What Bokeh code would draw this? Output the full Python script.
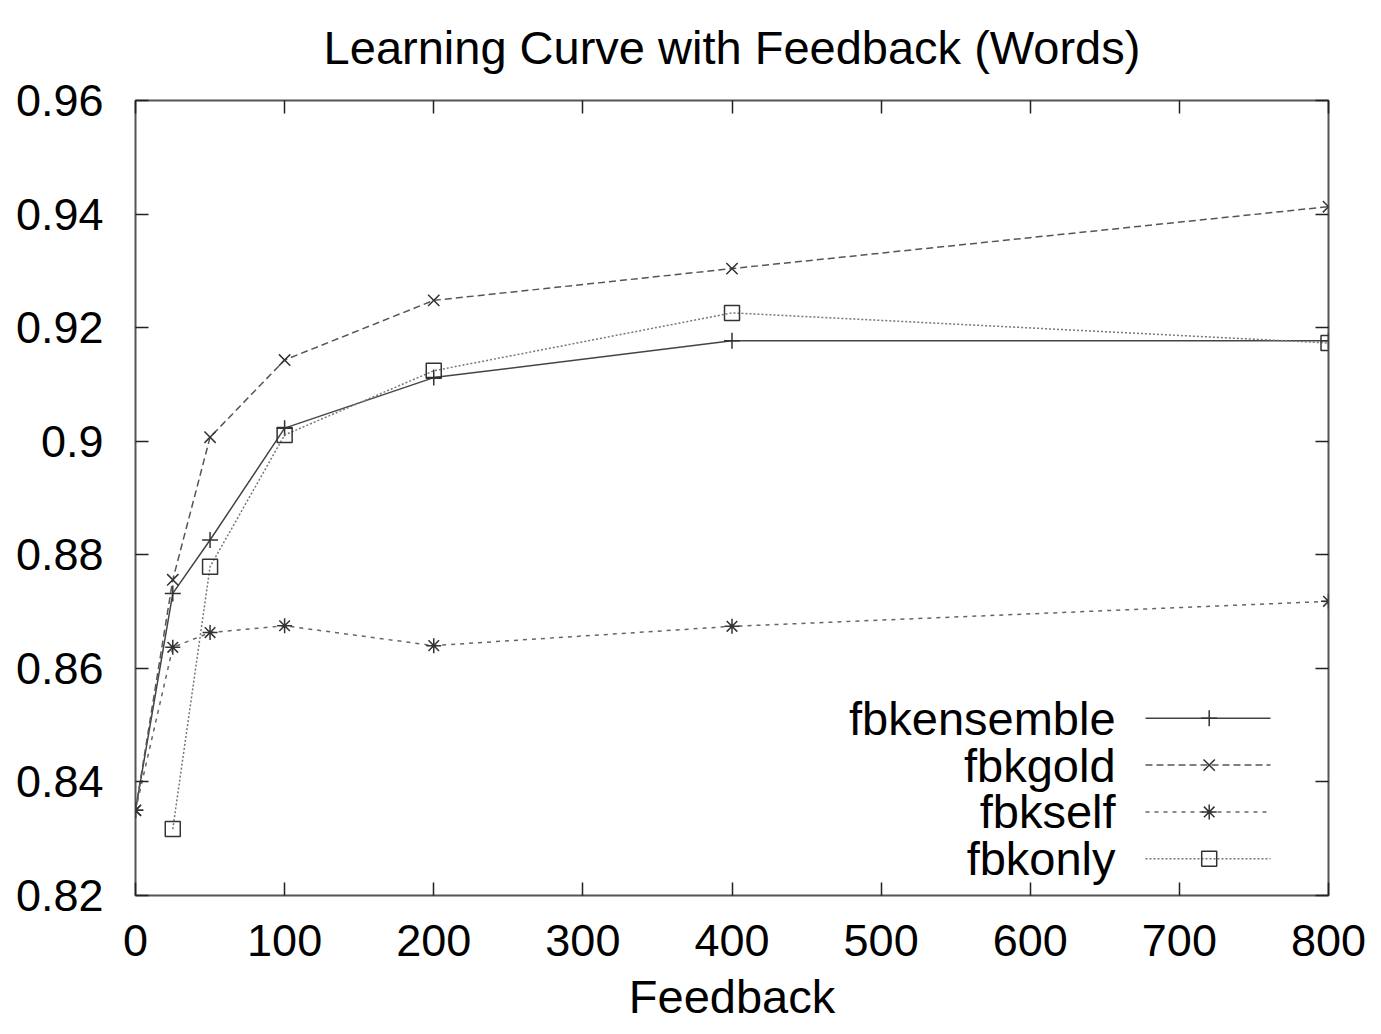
from bokeh.plotting import figure
from bokeh.models import FixedTicker, LinearAxis, Range1d, CustomLabelingPolicy
from bokeh.core.properties import value
from bokeh.embed import file_html
from bokeh.resources import INLINE

# ---- data ----
title_text = "Learning Curve with Feedback (Words)"
x_label = "Feedback"
feedback = [0, 25, 50, 100, 200, 400, 800]
fbkensemble = [0.835, 0.8732, 0.8826, 0.9023, 0.9112, 0.9177, 0.9177]
fbkgold = [0.835, 0.8756, 0.9007, 0.9143, 0.9248, 0.9304, 0.9413]
fbkself = [0.835, 0.8637, 0.8663, 0.8675, 0.8640, 0.8674, 0.8718]
feedback_only = [25, 50, 100, 200, 400, 800]
fbkonly = [0.8317, 0.8779, 0.9011, 0.9124, 0.9226, 0.9173]
series_names = ["fbkensemble", "fbkgold", "fbkself", "fbkonly"]
x_ticks = [0, 100, 200, 300, 400, 500, 600, 700, 800]
y_ticks = [0.82, 0.84, 0.86, 0.88, 0.9, 0.92, 0.94, 0.96]
y_tick_labels = ["0.82", "0.84", "0.86", "0.88", "0.9", "0.92", "0.94", "0.96"]

FONT = "Liberation Sans"
FS = "45px"
FS_BIG = "47px"

x0, x1 = 0, 800
y0, y1 = 0.82, 0.96

p = figure(width=1373, height=1026, output_backend="svg", toolbar_location=None,
           x_range=Range1d(x0, x1), y_range=Range1d(y0, y1),
           min_border_left=135, min_border_right=45, min_border_top=100, min_border_bottom=131,
           x_axis_label=x_label)
p.background_fill_color = "white"
p.border_fill_color = "white"
p.xgrid.visible = False
p.ygrid.visible = False
p.outline_line_color = "#555555"
p.outline_line_width = 2
p.outline_line_alpha = 1

p.title.text = title_text
p.title.align = "center"
p.title.vertical_align = "top"
p.title.text_font = FONT
p.title.text_font_size = FS_BIG
p.title.text_font_style = "normal"
p.title.text_color = "black"
p.title.standoff = 41

def style_axis(ax, show_labels=True):
    ax.axis_line_color = None
    ax.major_tick_in = 13
    ax.major_tick_out = 0
    ax.minor_tick_line_color = None
    ax.major_tick_line_color = "#222222"
    ax.major_tick_line_width = 1.5
    ax.major_label_text_font = FONT
    ax.major_label_text_color = "black"
    if show_labels:
        ax.major_label_text_font_size = FS
    else:
        ax.major_label_text_font_size = "1px"
        ax.major_label_policy = CustomLabelingPolicy(code="return []")
        ax.major_label_standoff = 0

xt = FixedTicker(ticks=x_ticks)
yt = FixedTicker(ticks=y_ticks)
p.xaxis.ticker = xt
p.yaxis.ticker = yt
p.yaxis.major_label_overrides = {t: s for t, s in zip(y_ticks, y_tick_labels)}
style_axis(p.xaxis[0])
style_axis(p.yaxis[0])
p.xaxis.major_label_standoff = 29
p.yaxis.major_label_standoff = 32
p.xaxis.axis_label_text_font = FONT
p.xaxis.axis_label_text_font_size = FS_BIG
p.xaxis.axis_label_text_font_style = "normal"
p.xaxis.axis_label_text_color = "black"
p.xaxis.axis_label_standoff = 11

top_ax = LinearAxis(ticker=FixedTicker(ticks=x_ticks))
style_axis(top_ax, False)
p.add_layout(top_ax, "above")
right_ax = LinearAxis(ticker=FixedTicker(ticks=y_ticks))
style_axis(right_ax, False)
p.add_layout(right_ax, "right")

styles = [
    dict(x=feedback, y=fbkensemble, dash="solid", color="#444444", marker="cross", size=16),
    dict(x=feedback, y=fbkgold, dash="7 4", color="#555555", marker="x", size=16),
    dict(x=feedback, y=fbkself, dash="4 5", color="#666666", marker="asterisk", size=15),
    dict(x=feedback_only, y=fbkonly, dash="2 2", color="#777777", marker="square", size=15),
]

for s in styles:
    p.line(s["x"], s["y"], line_color=s["color"], line_width=1.5, line_dash=s["dash"])
    p.scatter(s["x"], s["y"], marker=s["marker"], size=s["size"], line_color="#333333",
              fill_color=None, line_width=1.5)

# ---- legend (drawn manually: label right-aligned, sample to its right) ----
lx_text = x0 + 0.8215 * (x1 - x0)
lx_a = x0 + 0.8466 * (x1 - x0)
lx_b = x0 + 0.9514 * (x1 - x0)
lx_m = x0 + 0.9000 * (x1 - x0)
for i, (name, s) in enumerate(zip(series_names, styles)):
    ly = y0 + (0.2229 - i * 0.0589) * (y1 - y0)
    p.text([lx_text], [ly], text=[name], text_align="right", text_baseline="middle",
           text_font=value(FONT), text_font_size=value(FS_BIG), text_color="black")
    p.line([lx_a, lx_b], [ly, ly], line_color=s["color"], line_width=1.5, line_dash=s["dash"])
    p.scatter([lx_m], [ly], marker=s["marker"], size=s["size"], line_color="#333333",
              fill_color=None, line_width=1.5)

open("out.html", "w").write(file_html(p, INLINE))
